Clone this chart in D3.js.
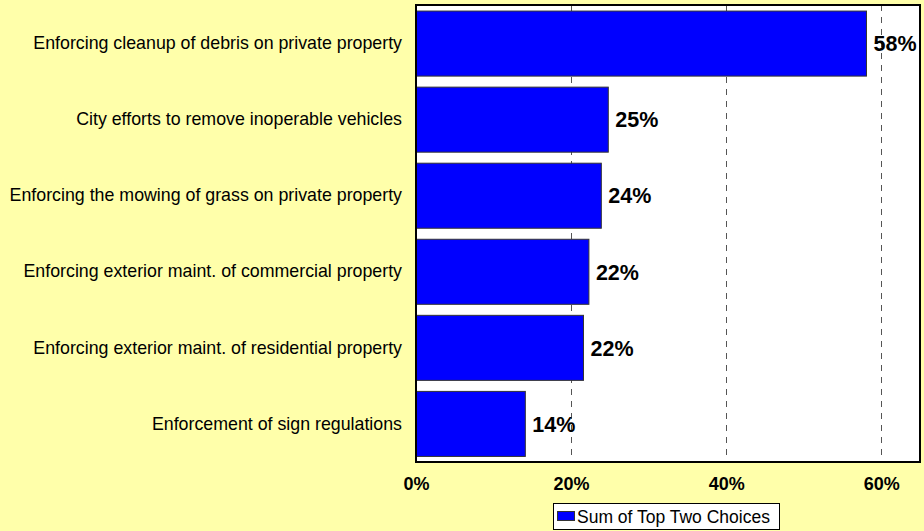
<!DOCTYPE html>
<html>
<head>
<meta charset="utf-8">
<script src="https://cdn.jsdelivr.net/npm/d3@7"></script>
<style>
  html, body { margin: 0; padding: 0; background: #FFFFAA; }
  svg { display: block; }
  text { font-family: Arial, "Liberation Sans", sans-serif; fill: #000; }
</style>
</head>
<body>
<svg id="chart" width="924" height="531"></svg>
<script>
// Survey items, top to bottom
const categories = [
  "Enforcing cleanup of debris on private property",
  "City efforts to remove inoperable vehicles",
  "Enforcing the mowing of grass on private property",
  "Enforcing exterior maint. of commercial property",
  "Enforcing exterior maint. of residential property",
  "Enforcement of sign regulations"
];
// Share of respondents naming the item among their top two choices
const values = [0.581, 0.248, 0.239, 0.223, 0.216, 0.141];
const xTicks = [0, 0.2, 0.4, 0.6];
const seriesName = "Sum of Top Two Choices";

const svg = d3.select("#chart");
const W = 924, H = 531;

const plot = { left: 416, right: 920, top: 5, bottom: 462 };

svg.append("rect").attr("width", W).attr("height", H).attr("fill", "#FFFFAA");

const x = d3.scaleLinear().domain([0, 0.65]).range([plot.left, plot.right]);
const y = d3.scaleBand().domain(categories).range([plot.top + 1.5, plot.bottom - 1])
  .paddingInner(0.145).paddingOuter(0.06);

// plot background
svg.append("rect")
  .attr("x", plot.left).attr("y", plot.top)
  .attr("width", plot.right - plot.left).attr("height", plot.bottom - plot.top)
  .attr("fill", "#fff");

// dashed vertical gridlines
svg.append("g").selectAll("line")
  .data(xTicks.filter(d => d > 0))
  .join("line")
  .attr("x1", d => Math.round(x(d)) + 0.5).attr("x2", d => Math.round(x(d)) + 0.5)
  .attr("y1", plot.top).attr("y2", plot.bottom)
  .attr("stroke", "#555").attr("stroke-width", 1)
  .attr("stroke-dasharray", "6,6");

// bars
svg.append("g").selectAll("rect")
  .data(values)
  .join("rect")
  .attr("x", x(0))
  .attr("y", (d, i) => y(categories[i]))
  .attr("width", d => x(d) - x(0))
  .attr("height", y.bandwidth())
  .attr("fill", "#0000FF")
  .attr("stroke", "#333")
  .attr("stroke-width", 1);

// value labels
const fmt = d3.format(".0%");
svg.append("g").selectAll("text")
  .data(values)
  .join("text")
  .attr("x", d => x(d) + 7)
  .attr("y", (d, i) => y(categories[i]) + y.bandwidth() / 2)
  .attr("dy", "0.36em")
  .attr("font-size", "21.5px")
  .attr("font-weight", "bold")
  .text(d => fmt(d));

// plot frame
svg.append("rect")
  .attr("x", plot.left).attr("y", plot.top)
  .attr("width", plot.right - plot.left).attr("height", plot.bottom - plot.top)
  .attr("fill", "none").attr("stroke", "#000").attr("stroke-width", 2);

// category axis labels
const yAxis = d3.axisLeft(y).tickSize(0).tickPadding(14);
const gy = svg.append("g").attr("transform", `translate(${plot.left},0)`).call(yAxis);
gy.select(".domain").remove();
gy.selectAll("text")
  .attr("font-size", "17.8px")
  .attr("font-family", "Arial, 'Liberation Sans', sans-serif")
  .attr("fill", "#111");

// percentage axis labels
const xAxis = d3.axisBottom(x).tickValues(xTicks).tickFormat(fmt).tickSize(0).tickPadding(15);
const gx = svg.append("g").attr("transform", `translate(0,${plot.bottom})`).call(xAxis);
gx.select(".domain").remove();
gx.selectAll("text")
  .attr("font-size", "18px")
  .attr("font-weight", "bold")
  .attr("font-family", "Arial, 'Liberation Sans', sans-serif")
  .attr("fill", "#000");

// legend
const lg = svg.append("g").attr("transform", "translate(553,503)");
lg.append("rect").attr("x", 0.5).attr("y", 0.5).attr("width", 226).attr("height", 26)
  .attr("fill", "#fff").attr("stroke", "#000").attr("stroke-width", 1);
lg.append("rect").attr("x", 4.5).attr("y", 8.5).attr("width", 17).attr("height", 9)
  .attr("fill", "#0000FF").attr("stroke", "#333").attr("stroke-width", 1);
lg.append("text").attr("x", 24).attr("y", 19.5)
  .attr("font-size", "17.5px").text(seriesName);
</script>
</body>
</html>
